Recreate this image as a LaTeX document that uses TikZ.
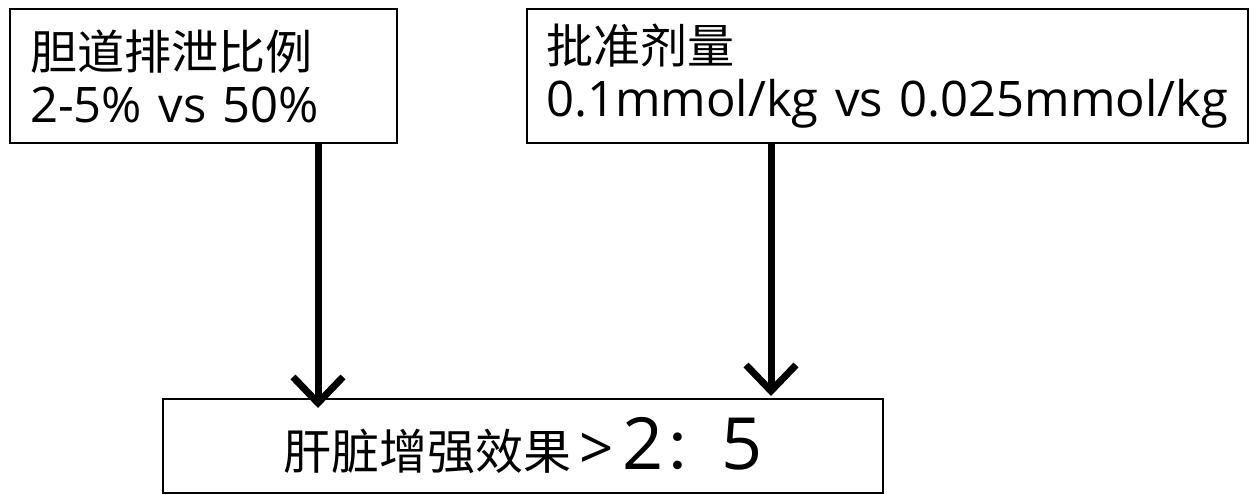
\documentclass[tikz,border=0pt]{standalone}
\usepackage{fontspec}
\setmainfont{Open Sans}
\newfontfamily\cjkfont{Noto Sans CJK SC}[Scale=0.96]
\newcommand{\zh}[1]{{\cjkfont #1}}
\usetikzlibrary{arrows.meta}
\tikzset{
  box/.style={draw=black, line width=2pt, inner sep=0pt, font=\fontsize{49}{53}\selectfont},
  conn/.style={line width=7pt, -{Straight Barb[length=26pt,width=50pt,line width=7pt]}}
}
\begin{document}
\begin{tikzpicture}[x=1pt,y=-1pt]
\useasboundingbox (0,0) rectangle (1258,495);
\node[box, minimum width=387pt, minimum height=134pt, text width=347pt, align=left] (b1) at (203.5,76) {\zh{胆道排泄比例}\\2-5\% vs 50\%};
\node[box, minimum width=721pt, minimum height=134pt, text width=683pt, align=left] (b2) at (887.5,76) {\zh{批准剂量}\\0.1mmol/kg vs 0.025mmol/kg};
\node[box, minimum width=720pt, minimum height=94pt, align=center] (b3) at (523,446) {\raisebox{-4pt}{\fontsize{50}{50}\selectfont\zh{肝脏增强效果}\,{\fontsize{60}{60}\selectfont >}\,{\fontsize{72}{72}\selectfont 2{\fontsize{60}{60}\selectfont\cjkfont ：}5}}};
\draw[conn] (b1.south -| 318,0) -- (318,408);
\draw[conn] (b2.south -| 771,0) -- (771,396);
\end{tikzpicture}
\end{document}
